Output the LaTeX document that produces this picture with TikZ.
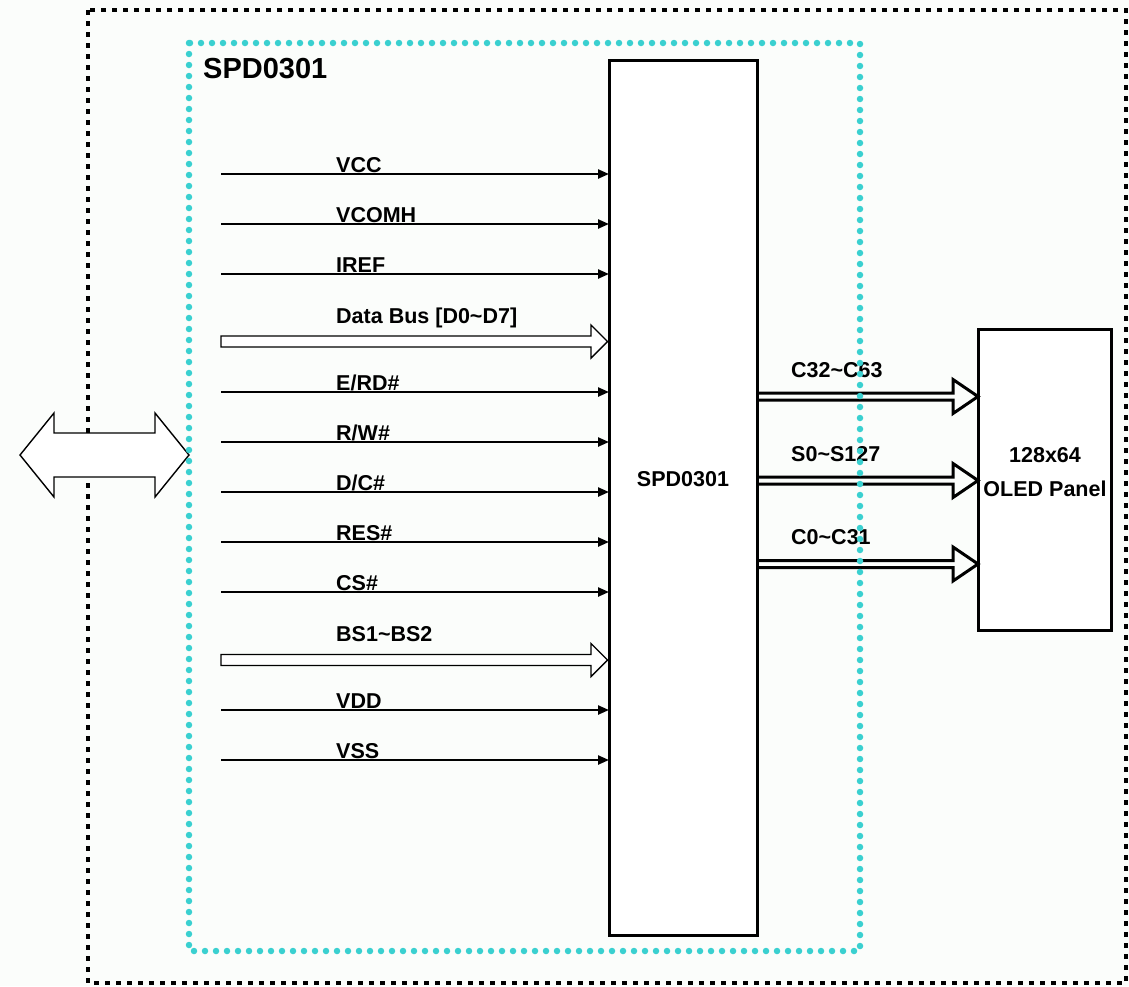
\documentclass[tikz,border=0pt]{standalone}
\usepackage{fontspec}
\setmainfont{Liberation Sans}
\usetikzlibrary{arrows.meta}
\definecolor{dotcyan}{RGB}{58,208,208}
\definecolor{bgc}{RGB}{251,253,251}
\begin{document}
\begin{tikzpicture}[x=1pt,y=-1pt,
  lbl/.style={font=\fontsize{21.5}{22}\selectfont\bfseries, anchor=base west, inner sep=0pt},
  clbl/.style={font=\fontsize{21.5}{22}\selectfont\bfseries, anchor=base, inner sep=0pt},
  title/.style={font=\fontsize{29}{30}\selectfont\bfseries, anchor=base west, inner sep=0pt},
  sig/.style={line width=2.3pt, -{Triangle[length=11pt,width=9pt]}},
  hollow/.style={line width=1.4pt, fill=white, line join=miter},
  bus/.style={line width=3pt, line join=miter},
  box/.style={draw, line width=3pt, fill=white, inner sep=0pt, outer sep=0pt},
  outerframe/.style={line width=4.6pt, dash pattern=on 4.6pt off 6.4pt},
  innerframe/.style={dotcyan, line width=6.5pt, line cap=round, dash pattern=on 0pt off 11pt}]
\fill[bgc] (0,0) rectangle (1129,986);
\useasboundingbox (0,0) rectangle (1129,986);

% outer frame
\draw[outerframe] (88,10) rectangle (1126,983);

% chip and panel
\node[box, minimum width=148pt, minimum height=875pt] (chip) at (683,497.5) {};
\node[clbl] (chiplbl) at (683,486) {SPD0301};
\node[box, minimum width=133pt, minimum height=301pt] (panel) at (1044.5,479.5) {};
\node[clbl] (pl1) at (1045,462) {128x64};
\node[clbl] (pl2) at (1045,496) {OLED Panel};

% host double arrow
\draw[hollow] (20,455) -- (54,413) -- (54,433) -- (155,433) -- (155,413) -- (189,455)
  -- (155,497) -- (155,477) -- (54,477) -- (54,497) -- cycle;

% single signals
\coordinate (s1) at (221,174);
\coordinate (s2) at (221,224);
\coordinate (s3) at (221,274);
\coordinate (s5) at (221,392);
\coordinate (s6) at (221,442);
\coordinate (s7) at (221,492);
\coordinate (s8) at (221,542);
\coordinate (s9) at (221,592);
\coordinate (s11) at (221,710);
\coordinate (s12) at (221,760);
\foreach \s in {s1,s2,s3,s5,s6,s7,s8,s9,s11,s12}
  \draw[sig] (\s) -- (\s -| chip.west);

\node[lbl] (l1) at (336,172) {VCC};
\node[lbl] (l2) at (336,222) {VCOMH};
\node[lbl] (l3) at (336,272) {IREF};
\node[lbl] (l4) at (336,323) {Data Bus [D0\textasciitilde D7]};
\node[lbl] (l5) at (336,390) {E/RD\#};
\node[lbl] (l6) at (336,440) {R/W\#};
\node[lbl] (l7) at (336,490) {D/C\#};
\node[lbl] (l8) at (336,540) {RES\#};
\node[lbl] (l9) at (336,590) {CS\#};
\node[lbl] (l10) at (336,641) {BS1\textasciitilde BS2};
\node[lbl] (l11) at (336,708) {VDD};
\node[lbl] (l12) at (336,758) {VSS};

% hollow bus arrows into chip
\draw[hollow] (221,336) -- (591,336) -- (591,325) -- (607.5,341.5) -- (591,358) -- (591,347) -- (221,347) -- cycle;
\draw[hollow] (221,654.5) -- (591,654.5) -- (591,643.5) -- (607.5,660) -- (591,676.5) -- (591,665.5) -- (221,665.5) -- cycle;

% output buses chip -> panel
\foreach \yy in {396.5,480.5,564}{
  \draw[bus] (chip.east |- 0,\yy-3.5) -- (953,\yy-3.5) -- (953,\yy-17) -- (panel.west |- 0,\yy)
    -- (953,\yy+17) -- (953,\yy+3.5) -- (chip.east |- 0,\yy+3.5);
}
\node[lbl] (o1) at (791,377) {C32\textasciitilde C63};
\node[lbl] (o2) at (791,461) {S0\textasciitilde S127};
\node[lbl] (o3) at (791,544) {C0\textasciitilde C31};

% inner dotted frame (on top)
\draw[innerframe] (189,43) rectangle (860,951);
\node[title] (ttl) at (203,78) {SPD0301};
\end{tikzpicture}
\end{document}
